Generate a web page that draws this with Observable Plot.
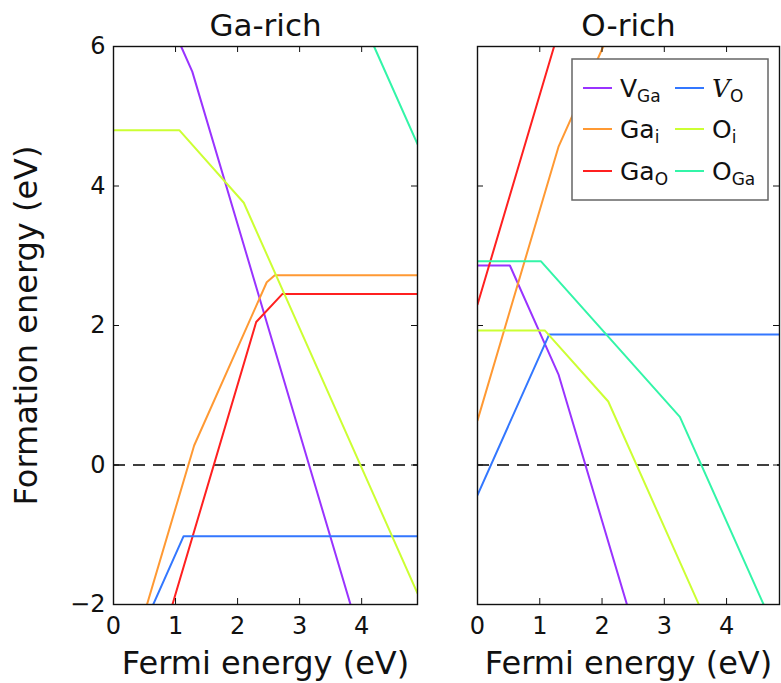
<!DOCTYPE html>
<html><head><meta charset="utf-8">
<script src="https://cdn.jsdelivr.net/npm/d3@7"></script>
<script src="https://cdn.jsdelivr.net/npm/@observablehq/plot@0.6"></script>
<style>
body{margin:0;background:#fff}
#chart{position:relative;width:781px;height:683px;overflow:hidden;font-family:"DejaVu Sans"}
#chart svg{position:absolute;top:0;overflow:visible}
</style>
</head><body><div id="chart"></div>
<script>
// ---- data (Fermi energy eV, formation energy eV) ----
const panelTitles = ["Ga-rich", "O-rich"];
const xTicks = [0, 1, 2, 3, 4];
const yTicks = [-2, 0, 2, 4, 6];
const yTickLabels = ["−2", "0", "2", "4", "6"];
const defectNames = ["VGa", "Gai", "GaO", "VO", "Oi", "OGa"];
const defectColors = ["#9933ff", "#ff9933", "#ff2020", "#3377ff", "#ccff33", "#33f5a8"];

// Ga-rich
const gaRichVGa = [[1.09, 6], [1.27, 5.64], [3.82, -2]];
const gaRichGai = [[0.54, -2], [1.3, 0.28], [2.47, 2.62], [2.6, 2.72], [4.9, 2.72]];
const gaRichGaO = [[0.95, -2], [2.3, 2.05], [2.72, 2.45], [4.9, 2.45]];
const gaRichVO  = [[0.64, -2], [1.13, -1.02], [4.9, -1.02]];
const gaRichOi  = [[0, 4.8], [1.06, 4.8], [2.1, 3.76], [4.9, -1.84]];
const gaRichOGa = [[4.2, 6], [4.9, 4.6]];

// O-rich
const oRichVGa = [[0, 2.86], [0.52, 2.86], [1.3, 1.3], [2.4, -2]];
const oRichGai = [[0, 0.64], [1.3, 4.56], [2.02, 6]];
const oRichGaO = [[0, 2.3], [1.23, 6]];
const oRichVO  = [[0, -0.43], [1.15, 1.87], [4.85, 1.87]];
const oRichOi  = [[0, 1.93], [1.08, 1.93], [2.1, 0.91], [3.55, -1.99]];
const oRichOGa = [[0, 2.92], [1.02, 2.92], [3.25, 0.69], [4.6, -2.01]];

const gaRichSeries = [gaRichVGa, gaRichGai, gaRichGaO, gaRichVO, gaRichOi, gaRichOGa];
const oRichSeries  = [oRichVGa, oRichGai, oRichGaO, oRichVO, oRichOi, oRichOGa];

// legend labels: [main, subscript, italic main?]
const legendMain = ["V", "Ga", "Ga", "V", "O", "O"];
const legendSub  = ["Ga", "i", "O", "O", "i", "Ga"];
const legendItalic = [false, false, false, true, false, false];

// ---- drawing ----
const H = 683, MT = 46, MB = 79;

function panel({title, series, width, marginLeft, marginRight, xDomain, yAxisLabels}) {
  const frameW = width - marginLeft - marginRight;
  const frameH = H - MT - MB;
  const marks = [
    Plot.ruleY([0], {stroke: "black", strokeWidth: 1.5, strokeDasharray: "12,8"}),
    ...series.map((s, i) => Plot.line(s, {x: d => d[0], y: d => d[1], stroke: defectColors[i], strokeWidth: 2, clip: true})),
    Plot.frame({stroke: "#111", strokeWidth: 1.4}),
    Plot.tickX(xTicks, {x: d => d, insetTop: frameH - 6, stroke: "#111"}),
    Plot.tickX(xTicks, {x: d => d, insetBottom: frameH - 6, stroke: "#111"}),
    Plot.tickY(yTicks, {y: d => d, insetRight: frameW - 6, stroke: "#111"}),
    Plot.tickY(yTicks, {y: d => d, insetLeft: frameW - 6, stroke: "#111"}),
    Plot.axisX(xTicks, {anchor: "bottom", tickSize: 0, tickPadding: 12, fontSize: 24, label: null, fill: "#111"}),
    Plot.text([title], {frameAnchor: "top", dy: -11, lineAnchor: "bottom", textAnchor: "middle", fontSize: 31, fill: "#111"}),
    Plot.text(["Fermi energy (eV)"], {frameAnchor: "bottom", dy: 69, lineAnchor: "bottom", textAnchor: "middle", fontSize: 32, fill: "#111"})
  ];
  if (yAxisLabels) {
    marks.push(Plot.axisY(yTicks, {anchor: "left", tickSize: 0, tickPadding: 8, fontSize: 24, label: null, fill: "#111",
      tickFormat: d => yTickLabels[yTicks.indexOf(d)]}));
    marks.push(Plot.text(["Formation energy (eV)"], {frameAnchor: "left", dx: -77, rotate: -90, lineAnchor: "bottom", textAnchor: "middle", fontSize: 32, fill: "#111"}));
  }
  return Plot.plot({
    width, height: H, marginTop: MT, marginBottom: MB, marginLeft, marginRight,
    style: {fontFamily: "DejaVu Sans", background: "transparent", overflow: "visible"},
    x: {domain: xDomain, axis: null},
    y: {domain: [-2, 6], axis: null},
    marks
  });
}

const chart = document.getElementById("chart");
const left = panel({title: panelTitles[0], series: gaRichSeries, width: 440, marginLeft: 113, marginRight: 23, xDomain: [0, 4.9], yAxisLabels: true});
left.style.left = "0px";
chart.appendChild(left);

const right = panel({title: panelTitles[1], series: oRichSeries, width: 341, marginLeft: 37, marginRight: 2, xDomain: [0, 4.85], yAxisLabels: false});
right.style.left = "440px";
chart.appendChild(right);

// legend inside right panel (upper right)
const lg = d3.select(right).append("g").attr("font-family", "DejaVu Sans").attr("fill", "#111").attr("text-anchor", "start");
lg.append("rect").attr("x", 132).attr("y", 59).attr("width", 196).attr("height", 141)
  .attr("fill", "white").attr("stroke", "#666").attr("stroke-width", 1.5);
const colX = [143, 235], rowY = [88, 129, 171];
defectNames.forEach((name, i) => {
  const c = Math.floor(i / 3), r = i % 3;
  const x0 = colX[c], y0 = rowY[r];
  lg.append("line").attr("x1", x0).attr("x2", x0 + 29).attr("y1", y0).attr("y2", y0)
    .attr("stroke", defectColors[i]).attr("stroke-width", 2);
  const t = lg.append("text").attr("x", x0 + 37).attr("y", y0 + 9).attr("font-size", 25).attr("text-anchor", "start");
  const m = t.append("tspan").text(legendMain[i]);
  if (legendItalic[i]) m.attr("font-family", "DejaVu Serif").attr("font-style", "italic");
  t.append("tspan").attr("dy", 5).attr("font-size", 17).text(legendSub[i]);
});
</script></body></html>
